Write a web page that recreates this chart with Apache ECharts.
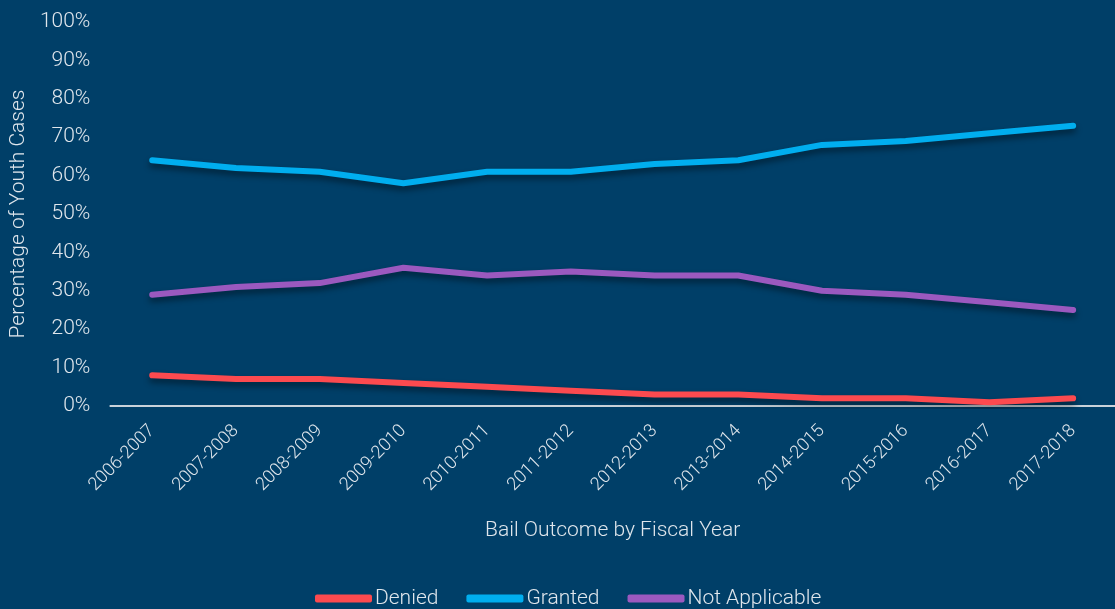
<!DOCTYPE html>
<html><head><meta charset="utf-8">
<script src="https://cdn.jsdelivr.net/npm/echarts@6/dist/echarts.min.js"></script>
<style>html,body{margin:0;padding:0;background:#003f68;}#c{width:1115px;height:609px;}</style>
</head><body><div id="c"></div>
<script>
const categories = ['2006-2007','2007-2008','2008-2009','2009-2010','2010-2011','2011-2012','2012-2013','2013-2014','2014-2015','2015-2016','2016-2017','2017-2018'];
const denied = [8,7,7,6,5,4,3,3,2,2,1,2];
const granted = [64,62,61,58,61,61,63,64,68,69,71,73];
const notApplicable = [29,31,32,36,34,35,34,34,30,29,27,25];
const yTicks = [0,10,20,30,40,50,60,70,80,90,100];

const txt = '#dfe6ec';
const font = 'Roboto';
function mk(name, data, color){
  return {name, type:'line', data, symbol:'none', smooth:false,
    lineStyle:{color, width:6, cap:'round', join:'round', shadowColor:'rgba(0,0,0,0.45)', shadowBlur:6, shadowOffsetY:4},
    itemStyle:{color}};
}
const chart = echarts.init(document.getElementById('c'));
chart.setOption({
  backgroundColor:'#003f68',
  animation:false,
  textStyle:{fontFamily:font, fontWeight:300},
  grid:{left:109, right:-10, top:22, bottom:203, containLabel:false},
  xAxis:{type:'category', data:categories, boundaryGap:true,
    name:'Bail Outcome by Fiscal Year', nameLocation:'middle', nameGap:114,
    nameTextStyle:{color:txt, fontSize:21, fontFamily:font, fontWeight:300},
    axisLine:{lineStyle:{color:'#c9d2da', width:2}}, axisTick:{show:false},
    axisLabel:{color:txt, fontSize:18, rotate:45, margin:22, fontFamily:font, fontWeight:300}},
  yAxis:{type:'value', min:0, max:100, interval:10,
    name:'Percentage of Youth Cases', nameLocation:'middle', nameGap:80, nameRotate:90,
    nameTextStyle:{color:txt, fontSize:21, fontFamily:font, fontWeight:300},
    axisLine:{show:false}, axisTick:{show:false}, splitLine:{show:false},
    axisLabel:{color:txt, fontSize:21, margin:20, fontFamily:font, fontWeight:300,
      formatter:v=> yTicks.includes(v) ? v+'%' : ''}},
  legend:{bottom:-5, left:310, itemWidth:57, itemHeight:8, itemGap:28, icon:'roundRect',
    textStyle:{color:txt, fontSize:21, fontFamily:font, fontWeight:300, padding:[0,0,0,-2]},
    data:['Denied','Granted','Not Applicable']},
  series:[mk('Denied',denied,'#fc4a4f'), mk('Granted',granted,'#00aeef'), mk('Not Applicable',notApplicable,'#9b59bf')]
});
</script></body></html>
